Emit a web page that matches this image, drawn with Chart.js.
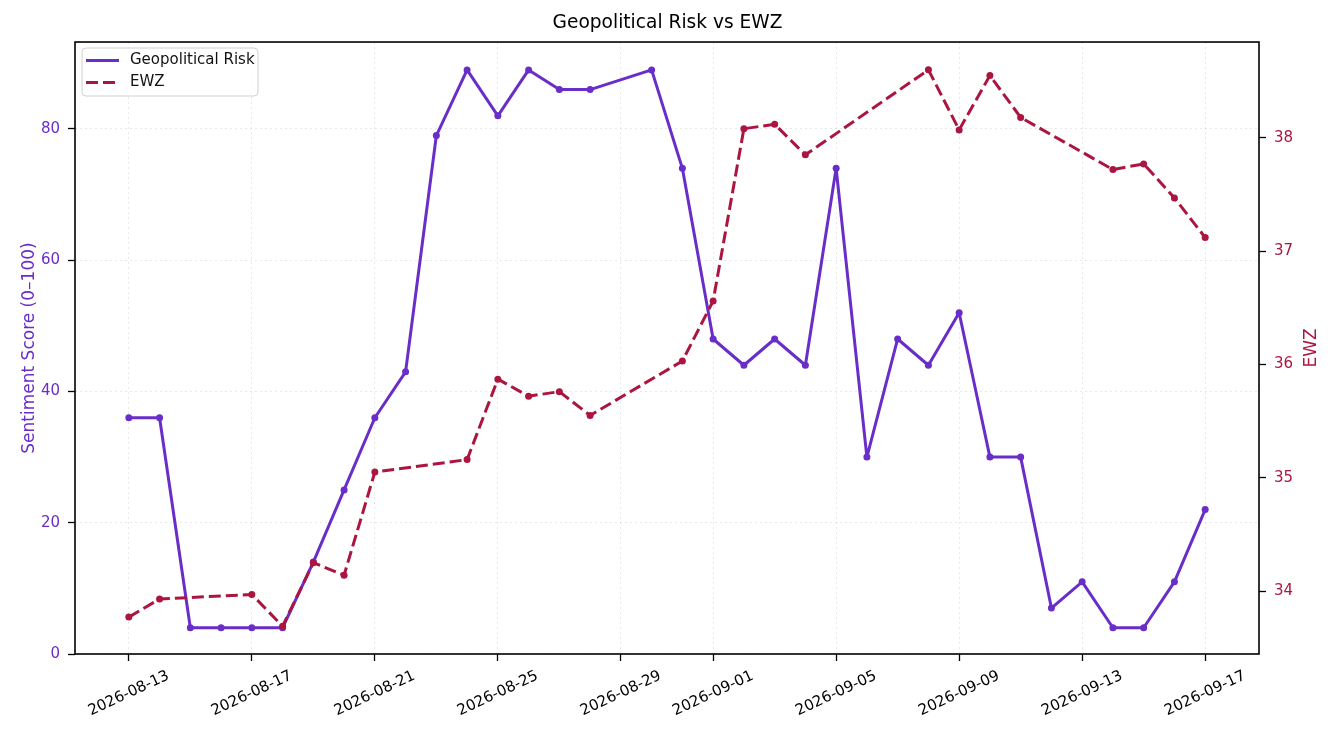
<!DOCTYPE html>
<html>
<head>
<meta charset="utf-8">
<script src="https://cdn.jsdelivr.net/npm/chart.js@4.4.1/dist/chart.umd.min.js"></script>
<style>
html,body{margin:0;padding:0;background:#fff;}
#wrap{width:1335px;height:735px;}
</style>
</head>
<body>
<div id="wrap"><canvas id="c" width="1335" height="735"></canvas></div>
<script>
const chartTitle = 'Geopolitical Risk vs EWZ';
const seriesNames = ['Geopolitical Risk', 'EWZ'];
const axisTitles = ['Sentiment Score (0–100)', 'EWZ'];

const geoDates = ['2026-08-13','2026-08-14','2026-08-15','2026-08-16','2026-08-17','2026-08-18','2026-08-19','2026-08-20','2026-08-21','2026-08-22','2026-08-23','2026-08-24','2026-08-25','2026-08-26','2026-08-27','2026-08-28','2026-08-30','2026-08-31','2026-09-01','2026-09-02','2026-09-03','2026-09-04','2026-09-05','2026-09-06','2026-09-07','2026-09-08','2026-09-09','2026-09-10','2026-09-11','2026-09-12','2026-09-13','2026-09-14','2026-09-15','2026-09-16','2026-09-17'];
const geoValues = [36,36,4,4,4,4,14,25,36,43,79,89,82,89,86,86,89,74,48,44,48,44,74,30,48,44,52,30,30,7,11,4,4,11,22];

const ewzDates = ['2026-08-13','2026-08-14','2026-08-17','2026-08-18','2026-08-19','2026-08-20','2026-08-21','2026-08-24','2026-08-25','2026-08-26','2026-08-27','2026-08-28','2026-08-31','2026-09-01','2026-09-02','2026-09-03','2026-09-04','2026-09-08','2026-09-09','2026-09-10','2026-09-11','2026-09-14','2026-09-15','2026-09-16','2026-09-17'];
const ewzValues = [33.77,33.93,33.97,33.69,34.25,34.14,35.05,35.16,35.87,35.72,35.76,35.55,36.03,36.56,38.08,38.12,37.85,38.60,38.07,38.55,38.18,37.72,37.77,37.47,37.12];

const xTickDates = ['2026-08-13','2026-08-17','2026-08-21','2026-08-25','2026-08-29','2026-09-01','2026-09-05','2026-09-09','2026-09-13','2026-09-17'];
const leftTicks = [0,20,40,60,80];
const rightTicks = [34,35,36,37,38];

const PURPLE = '#6a2ec8';
const CRIMSON = '#ab1640';
const GRID = 'rgba(0,0,0,0.09)';
const FONT = "'DejaVu Sans', sans-serif";
Chart.defaults.font.family = FONT;

const DAY = 86400000;
const t0 = Date.parse(geoDates[0]);
const dayOf = d => (Date.parse(d) - t0) / DAY;

const allDays = geoDates.concat(ewzDates).map(dayOf);
const dMin = Math.min(...allDays), dMax = Math.max(...allDays);
const xPad = (dMax - dMin) * 0.05;

const gMax = Math.max(...geoValues), gMin = Math.min(...geoValues);
const leftMax = gMax + (gMax - gMin) * 0.05;
const eMax = Math.max(...ewzValues), eMin = Math.min(...ewzValues);
const ePad = (eMax - eMin) * 0.05;

const customPlugin = {
  id: 'custom',
  afterDraw(chart) {
    const {ctx, chartArea: a, scales} = chart;
    ctx.save();
    // frame
    ctx.strokeStyle = '#000';
    ctx.lineWidth = 1.6;
    ctx.setLineDash([]);
    ctx.strokeRect(a.left, a.top, a.right - a.left, a.bottom - a.top);

    // x tick labels (centered, rotated)
    ctx.font = '15px ' + FONT;
    ctx.fillStyle = '#000';
    ctx.textAlign = 'center';
    ctx.textBaseline = 'middle';
    scales.x.ticks.forEach((t, i) => {
      const px = scales.x.getPixelForValue(t.value);
      ctx.save();
      ctx.translate(px, a.bottom + 39.5);
      ctx.rotate(-25 * Math.PI / 180);
      ctx.fillText(xTickDates[i], 0, 0);
      ctx.restore();
    });

    // right axis title
    ctx.save();
    ctx.translate(a.right + 56.7, (a.top + a.bottom) / 2);
    ctx.rotate(-Math.PI / 2);
    ctx.font = '17px ' + FONT;
    ctx.fillStyle = CRIMSON;
    ctx.textAlign = 'center';
    ctx.textBaseline = 'alphabetic';
    ctx.fillText(axisTitles[1], 0, 0);
    ctx.restore();

    // legend
    const lx = a.left + 7, ly = a.top + 6, lw = 176, lh = 48;
    ctx.beginPath();
    ctx.roundRect(lx, ly, lw, lh, 4);
    ctx.fillStyle = 'rgba(255,255,255,0.8)';
    ctx.fill();
    ctx.strokeStyle = '#d0d0d0';
    ctx.lineWidth = 1;
    ctx.stroke();
    const rows = [
      {name: seriesNames[0], color: PURPLE, dash: [], y: a.top + 18.5},
      {name: seriesNames[1], color: CRIMSON, dash: [12, 5], y: a.top + 40.5}
    ];
    rows.forEach(r => {
      ctx.beginPath();
      ctx.setLineDash(r.dash);
      ctx.strokeStyle = r.color;
      ctx.lineWidth = 3;
      ctx.moveTo(a.left + 11, r.y);
      ctx.lineTo(a.left + 44, r.y);
      ctx.stroke();
      ctx.setLineDash([]);
      ctx.fillStyle = '#111';
      ctx.font = '15px ' + FONT;
      ctx.textAlign = 'left';
      ctx.textBaseline = 'middle';
      ctx.fillText(r.name, a.left + 55, r.y);
    });
    ctx.restore();
  }
};

new Chart(document.getElementById('c').getContext('2d'), {
  type: 'line',
  data: {
    datasets: [
      {
        label: seriesNames[0],
        data: geoDates.map((d, i) => ({x: dayOf(d), y: geoValues[i]})),
        yAxisID: 'y',
        borderColor: PURPLE,
        backgroundColor: PURPLE,
        pointBackgroundColor: PURPLE,
        borderWidth: 3,
        borderJoinStyle: 'round',
        pointRadius: 3.5,
        pointBorderWidth: 0,
        tension: 0,
        order: 2
      },
      {
        label: seriesNames[1],
        data: ewzDates.map((d, i) => ({x: dayOf(d), y: ewzValues[i]})),
        yAxisID: 'y2',
        borderColor: CRIMSON,
        backgroundColor: CRIMSON,
        pointBackgroundColor: CRIMSON,
        borderWidth: 3,
        borderDash: [12, 5],
        borderJoinStyle: 'round',
        pointRadius: 3.5,
        pointBorderWidth: 0,
        tension: 0,
        order: 1
      }
    ]
  },
  options: {
    responsive: false,
    animation: false,
    layout: {padding: 0},
    plugins: {
      legend: {display: false},
      tooltip: {enabled: false},
      title: {
        display: true,
        text: chartTitle,
        color: '#000',
        font: {size: 18.6, weight: 'normal', family: FONT},
        padding: {top: 11.7, bottom: 8}
      }
    },
    scales: {
      x: {
        type: 'linear',
        min: dMin - xPad,
        max: dMax + xPad,
        afterBuildTicks: s => { s.ticks = xTickDates.map(d => ({value: dayOf(d)})); },
        afterFit: s => { s.height = 81; },
        ticks: {display: false, autoSkip: false},
        grid: {color: GRID, lineWidth: 1, tickLength: 7, tickColor: '#000', tickWidth: 1.3},
        border: {display: false, dash: [2, 3]}
      },
      y: {
        type: 'linear',
        position: 'left',
        min: 0,
        max: leftMax,
        afterBuildTicks: s => { s.ticks = leftTicks.map(v => ({value: v})); },
        afterFit: s => { s.width = 75; },
        ticks: {color: PURPLE, font: {size: 15}, padding: 8},
        grid: {color: GRID, lineWidth: 1, tickLength: 7, tickColor: '#000', tickWidth: 1.3},
        border: {display: false, dash: [2, 3]},
        title: {display: true, text: axisTitles[0], color: PURPLE, font: {size: 17}, padding: {top: 19.5, bottom: 0}}
      },
      y2: {
        type: 'linear',
        position: 'right',
        min: eMin - ePad,
        max: eMax + ePad,
        afterBuildTicks: s => { s.ticks = rightTicks.map(v => ({value: v})); },
        afterFit: s => { s.width = 76; },
        ticks: {color: CRIMSON, font: {size: 15}, padding: 8},
        grid: {drawOnChartArea: false, tickLength: 7, tickColor: '#000', tickWidth: 1.3},
        border: {display: false}
      }
    }
  },
  plugins: [customPlugin]
});
</script>
</body>
</html>
